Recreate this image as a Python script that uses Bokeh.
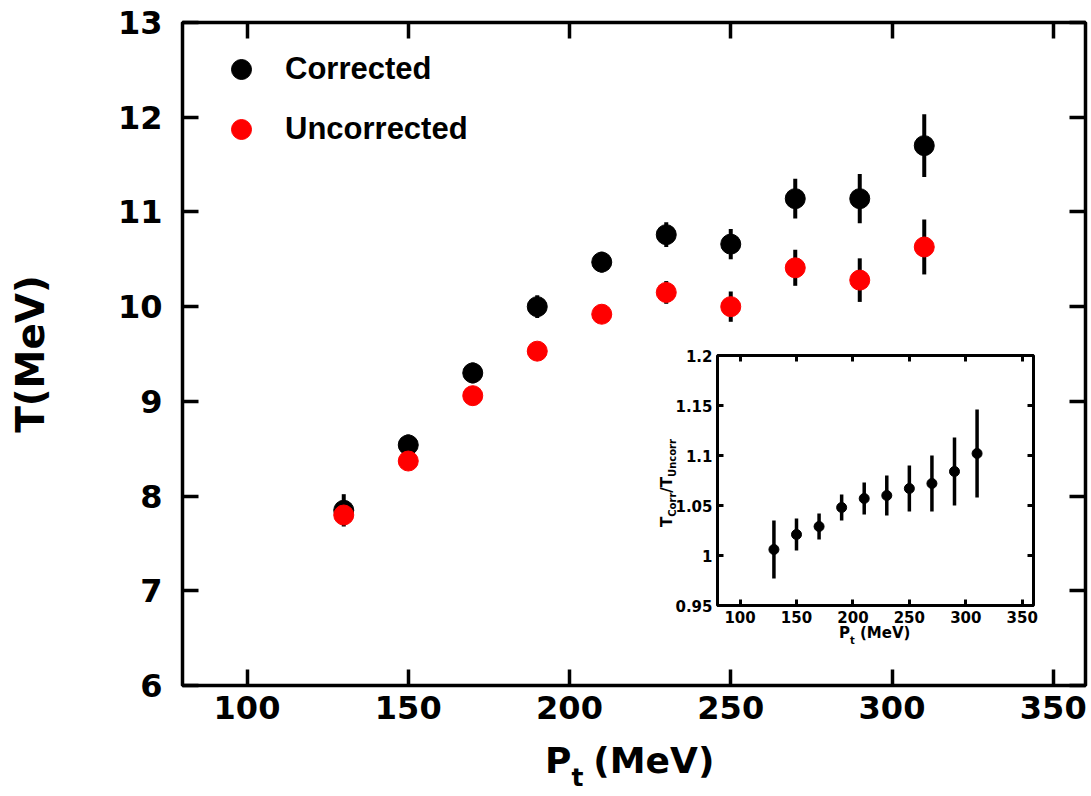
from bokeh.plotting import figure
from bokeh.models import (ColumnDataSource, LinearAxis, FixedTicker, Legend, LegendItem,
                          NumeralTickFormatter, CustomJSTickFormatter, Range1d, Div)
from bokeh.embed import file_html
from bokeh.resources import INLINE

# ---------------- data ----------------
pt = [130, 150, 170, 190, 210, 230, 250, 270, 290, 310]
t_corr = [7.85, 8.54, 9.30, 10.00, 10.47, 10.76, 10.66, 11.14, 11.14, 11.70]
t_corr_err = [0.17, 0.11, 0.11, 0.12, 0.11, 0.13, 0.16, 0.21, 0.26, 0.33]
t_uncorr = [7.80, 8.37, 9.06, 9.53, 9.92, 10.15, 10.00, 10.41, 10.28, 10.63]
t_uncorr_err = [0.10, 0.08, 0.08, 0.08, 0.09, 0.12, 0.16, 0.19, 0.23, 0.29]
ratio = [1.006, 1.021, 1.029, 1.048, 1.057, 1.060, 1.067, 1.072, 1.084, 1.102]
ratio_err = [0.029, 0.016, 0.013, 0.013, 0.016, 0.020, 0.023, 0.028, 0.034, 0.044]

x_ticks = [100, 150, 200, 250, 300, 350]
y_ticks = [6, 7, 8, 9, 10, 11, 12, 13]
inset_y_ticks = [0.95, 1.0, 1.05, 1.1, 1.15, 1.2]
series_labels = ["Corrected", "Uncorrected"]

FONT = "DejaVu Sans"
LFONT = "Liberation Sans"


def lo(v, e):
    return [a - b for a, b in zip(v, e)]


def hi(v, e):
    return [a + b for a, b in zip(v, e)]


def style_axis(ax, tick_len, lw, font_size):
    ax.axis_line_color = None
    ax.major_tick_in = tick_len
    ax.major_tick_out = 0
    ax.major_tick_line_width = lw
    ax.major_tick_line_color = "black"
    ax.minor_tick_line_color = None
    ax.major_label_text_font = FONT
    ax.major_label_text_font_style = "bold"
    ax.major_label_text_font_size = font_size
    ax.major_label_text_color = "black"


def add_box_axes(p, xt, yt, tick_len, lw, font_size, sx, sy, yfmt=None):
    blank = CustomJSTickFormatter(code="return ''")
    for loc in ["below", "above"]:
        ax = LinearAxis(ticker=FixedTicker(ticks=xt))
        style_axis(ax, tick_len, lw, font_size)
        if loc == "above":
            ax.formatter = blank
            ax.major_label_standoff = 0
        else:
            ax.major_label_standoff = sx
        p.add_layout(ax, loc)
    for loc in ["left", "right"]:
        ax = LinearAxis(ticker=FixedTicker(ticks=yt))
        style_axis(ax, tick_len, lw, font_size)
        if loc == "right":
            ax.formatter = blank
            ax.major_label_standoff = 0
        else:
            ax.major_label_standoff = sy
            if yfmt is not None:
                ax.formatter = yfmt
        p.add_layout(ax, loc)


def text_div(html, left, top, w, h, size, extra=None):
    st = {"position": "absolute", "left": f"{left}px", "top": f"{top}px",
          "font-family": FONT, "font-weight": "bold", "font-size": f"{size}px",
          "color": "black", "white-space": "nowrap", "line-height": "1"}
    if extra:
        st.update(extra)
    return Div(text=html, width=w, height=h, styles=st)


# ---------------- main plot ----------------
main = figure(width=1089, height=785, x_range=Range1d(80, 360), y_range=Range1d(6, 13),
              output_backend="svg", toolbar_location=None,
              x_axis_location=None, y_axis_location=None,
              min_border_left=182, min_border_right=4, min_border_top=22, min_border_bottom=100)
main.outline_line_color = "black"
main.outline_line_width = 3.5
main.outline_line_alpha = 1.0
main.background_fill_color = "white"
main.border_fill_color = "white"
main.xgrid.visible = False
main.ygrid.visible = False

add_box_axes(main, x_ticks, y_ticks, 16, 3.5, "32px", 10, 20)
left_ax = main.left[0]
left_ax.axis_label = "T(MeV)"
left_ax.axis_label_text_font = FONT
left_ax.axis_label_text_font_style = "bold"
left_ax.axis_label_text_font_size = "39px"
left_ax.axis_label_text_color = "black"
left_ax.axis_label_standoff = 62

src = ColumnDataSource(dict(
    pt=pt, tc=t_corr, tc_lo=lo(t_corr, t_corr_err), tc_hi=hi(t_corr, t_corr_err),
    tu=t_uncorr, tu_lo=lo(t_uncorr, t_uncorr_err), tu_hi=hi(t_uncorr, t_uncorr_err),
))
main.segment(x0="pt", y0="tc_lo", x1="pt", y1="tc_hi", source=src, line_color="black", line_width=4)
r_c = main.scatter("pt", "tc", source=src, size=20, marker="circle", fill_color="black", line_color="black")
main.segment(x0="pt", y0="tu_lo", x1="pt", y1="tu_hi", source=src, line_color="black", line_width=4)
r_u = main.scatter("pt", "tu", source=src, size=20, marker="circle", fill_color="red", line_color="red")

legend = Legend(items=[LegendItem(label=series_labels[0], renderers=[r_c]),
                       LegendItem(label=series_labels[1], renderers=[r_u])],
                location=(34, 531), glyph_width=50, glyph_height=50, spacing=10,
                padding=0, margin=0, label_standoff=19,
                label_text_font=LFONT, label_text_font_style="bold", label_text_font_size="31px",
                label_text_color="black",
                border_line_color=None, background_fill_alpha=0)
main.add_layout(legend)

# ---------------- inset ----------------
inset = figure(width=401, height=305, x_range=Range1d(80, 360), y_range=Range1d(0.95, 1.2),
               output_backend="svg", toolbar_location=None,
               x_axis_location=None, y_axis_location=None,
               min_border_left=77, min_border_right=8, min_border_top=10, min_border_bottom=45,
               styles={"position": "absolute", "left": "640px", "top": "345px"})
inset.outline_line_color = "black"
inset.outline_line_width = 3
inset.outline_line_alpha = 1.0
inset.background_fill_color = "white"
inset.border_fill_color = "white"
inset.xgrid.visible = False
inset.ygrid.visible = False
add_box_axes(inset, x_ticks, inset_y_ticks, 6, 3, "15px", 5, 5,
             yfmt=NumeralTickFormatter(format="0.[00]"))

isrc = ColumnDataSource(dict(pt=pt, r=ratio, r_lo=lo(ratio, ratio_err), r_hi=hi(ratio, ratio_err)))
inset.segment(x0="pt", y0="r_lo", x1="pt", y1="r_hi", source=isrc, line_color="black", line_width=3.5)
inset.scatter("pt", "r", source=isrc, size=10, marker="circle", fill_color="black", line_color="black")

# ---------------- axis titles with subscripts ----------------
xlabel_main = text_div(
    'P<span style="font-size:25px;vertical-align:-13px">t</span>'
    '<span style="margin-left:10px">(MeV)</span>',
    540, 738, 220, 54, 36)
xlabel_inset = text_div(
    'P<span style="font-size:10px;vertical-align:-6px">t</span> (MeV)',
    834, 621, 90, 24, 15)
ylabel_inset = text_div(
    'T<span style="font-size:10px;vertical-align:-4px">Corr</span>/'
    'T<span style="font-size:10px;vertical-align:-4px">Uncorr</span>',
    615, 468, 100, 20, 15, {"transform": "rotate(-90deg)", "text-align": "center"})

open("out.html", "w").write(file_html([main, inset, xlabel_main, xlabel_inset, ylabel_inset], INLINE))
